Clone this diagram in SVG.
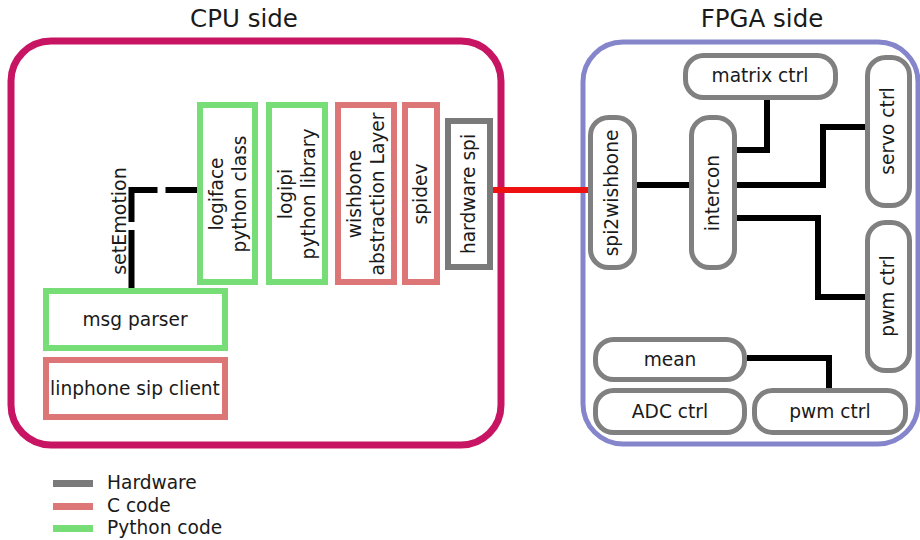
<svg xmlns="http://www.w3.org/2000/svg" width="920" height="540" viewBox="0 0 920 540">
  <style>
    text { font-family: "DejaVu Sans", "Liberation Sans", sans-serif; font-size: 18.6px; fill: #1a1a1a; }
    .title { font-size: 24.5px; }
    .mid { text-anchor: middle; }
    .py { fill: #fff; stroke: #77dd77; stroke-width: 6; }
    .c { fill: #fff; stroke: #dd7777; stroke-width: 6; }
    .hw { fill: #fff; stroke: #7a7a7a; stroke-width: 6; }
    .core { fill: #fff; stroke: #808080; stroke-width: 5; }
    .wire { fill: none; stroke: #000; stroke-width: 6; }
  </style>

  <!-- domain frames -->
  <g id="cpu-side">
    <rect x="11" y="41" width="490" height="404" rx="40" fill="#fff" stroke="#c71563" stroke-width="7"/>
    <text class="title mid" x="244" y="27">CPU side</text>
  </g>
  <g id="fpga-side">
    <rect x="583" y="42" width="335" height="402" rx="40" fill="#fff" stroke="#8585cc" stroke-width="5"/>
    <text class="title mid" x="762" y="27">FPGA side</text>
  </g>

  <!-- connectors -->
  <g id="connectors">
    <path class="wire" d="M131.5,288 V190 H197" stroke-dasharray="58 8" stroke-linejoin="miter"/>
    <path d="M490,190 H588" fill="none" stroke="#ee1111" stroke-width="6"/>
    <path class="wire" d="M637,185 H689"/>
    <path class="wire" d="M737,150 H767 V100"/>
    <path class="wire" d="M737,185 H823 V127 H865"/>
    <path class="wire" d="M737,218 H818 V297 H865"/>
    <path class="wire" d="M747,358 H829 V388"/>
  </g>
  <text class="mid" transform="translate(120,221) rotate(-90)" y="6" style="font-size:19px">setEmotion</text>

  <!-- CPU side stack -->
  <g id="logiface">
    <rect class="py" x="200" y="105" width="55" height="177"/>
    <text class="mid" transform="translate(228,194) rotate(-90)" y="-5.5">logiface</text>
    <text class="mid" transform="translate(228,194) rotate(-90)" y="17.5">python class</text>
  </g>
  <g id="logipi">
    <rect class="py" x="269" y="105" width="56" height="177"/>
    <text class="mid" transform="translate(297,194) rotate(-90)" y="-5.5">logipi</text>
    <text class="mid" transform="translate(297,194) rotate(-90)" y="17.5">python library</text>
  </g>
  <g id="wishbone">
    <rect class="c" x="338" y="105" width="56" height="177"/>
    <text class="mid" transform="translate(366,194) rotate(-90)" y="-5.5">wishbone</text>
    <text class="mid" transform="translate(366,194) rotate(-90)" y="17.5">abstraction Layer</text>
  </g>
  <g id="spidev">
    <rect class="c" x="405" y="105" width="32" height="177"/>
    <text class="mid" transform="translate(421,194) rotate(-90)" y="6">spidev</text>
  </g>
  <g id="hardware-spi">
    <rect class="hw" x="448" y="121" width="42" height="146"/>
    <text class="mid" transform="translate(469,194) rotate(-90)" y="6">hardware spi</text>
  </g>
  <g id="msg-parser">
    <rect class="py" x="46" y="291" width="179" height="57"/>
    <text class="mid" x="135" y="326">msg parser</text>
  </g>
  <g id="linphone">
    <rect class="c" x="46" y="360" width="179" height="57"/>
    <text class="mid" x="135" y="395">linphone sip client</text>
  </g>

  <!-- FPGA side cores -->
  <g id="spi2wishbone">
    <rect class="core" x="590.5" y="117.5" width="44" height="150" rx="18"/>
    <text class="mid" transform="translate(612,193) rotate(-90)" y="6">spi2wishbone</text>
  </g>
  <g id="intercon">
    <rect class="core" x="691.5" y="117.5" width="43" height="150" rx="18"/>
    <text class="mid" transform="translate(713,193) rotate(-90)" y="6">intercon</text>
  </g>
  <g id="matrix-ctrl">
    <rect class="core" x="685.5" y="55.5" width="150" height="42" rx="18"/>
    <text class="mid" x="760" y="82">matrix ctrl</text>
  </g>
  <g id="servo-ctrl">
    <rect class="core" x="867.5" y="57.5" width="42" height="148" rx="18"/>
    <text class="mid" transform="translate(888,131) rotate(-90)" y="6">servo ctrl</text>
  </g>
  <g id="pwm-ctrl-v">
    <rect class="core" x="867.5" y="222.5" width="42" height="148" rx="18"/>
    <text class="mid" transform="translate(888,296) rotate(-90)" y="6">pwm ctrl</text>
  </g>
  <g id="mean">
    <rect class="core" x="595.5" y="339.5" width="149" height="40" rx="18"/>
    <text class="mid" x="670" y="366">mean</text>
  </g>
  <g id="adc-ctrl">
    <rect class="core" x="595.5" y="390.5" width="149" height="42" rx="18"/>
    <text class="mid" x="670" y="418">ADC ctrl</text>
  </g>
  <g id="pwm-ctrl-h">
    <rect class="core" x="754.5" y="390.5" width="151" height="42" rx="18"/>
    <text class="mid" x="830" y="418">pwm ctrl</text>
  </g>

  <!-- legend -->
  <g id="legend">
    <rect x="53" y="480" width="40" height="7" fill="#7a7a7a"/>
    <text x="107" y="489">Hardware</text>
    <rect x="53" y="503" width="40" height="7" fill="#dd7777"/>
    <text x="107" y="512">C code</text>
    <rect x="53" y="525" width="40" height="7" fill="#77dd77"/>
    <text x="107" y="534">Python code</text>
  </g>
</svg>
